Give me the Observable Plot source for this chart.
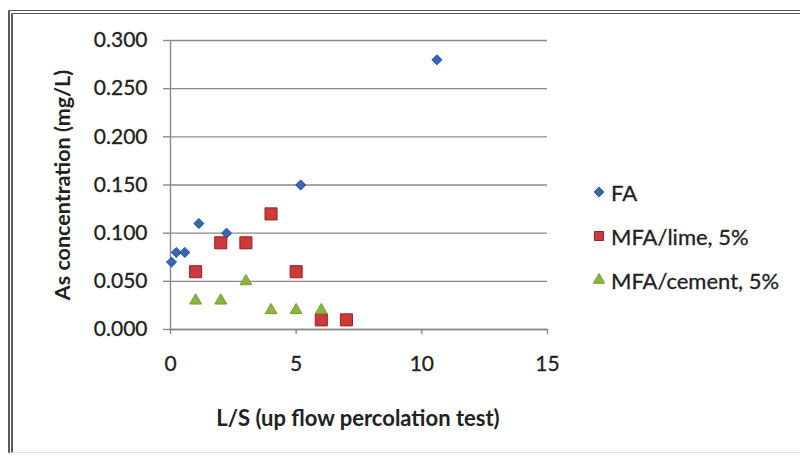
<!DOCTYPE html>
<html>
<head>
<meta charset="utf-8">
<script src="https://cdn.jsdelivr.net/npm/d3@7"></script>
<script src="https://cdn.jsdelivr.net/npm/@observablehq/plot@0.6"></script>
<style>
  html, body { margin: 0; padding: 0; background: #fff; }
  #wrap { position: relative; width: 800px; height: 457px; overflow: hidden; font-family: Lato, "Open Sans", sans-serif; color: #222; }
  #frame { position: absolute; left: 8px; top: 10px; width: 800px; height: 443px; border-left: 5px double #5a5a5a; border-top: 4px double #555; border-bottom: 1px solid #ddd; box-sizing: border-box; }
  #chart { position: absolute; left: 0; top: 0; }
  .title { position: absolute; font-weight: bold; font-size: 21.5px; white-space: nowrap; color: #222; }
  #ytitle { left: 62px; top: 185px; transform: translate(-50%, -50%) rotate(-90deg); }
  #xtitle { left: 358px; top: 417px; transform: translate(-50%, -50%); font-size: 22px; }
  #legend { position: absolute; left: 592px; top: 170px; font-size: 22px; }
  .row { display: flex; align-items: center; height: 44px; }
  .row svg { margin-right: 5px; }
  .row span { -webkit-text-stroke: 0.3px #222; }
  #chart svg g[aria-label="y-axis tick label"] text, #chart svg g[aria-label="x-axis tick label"] text { stroke: #222; stroke-width: 0.3px; }
</style>
</head>
<body>
<div id="wrap">
  <div id="frame"></div>
  <div id="chart"></div>
  <div class="title" id="ytitle"></div>
  <div class="title" id="xtitle"></div>
  <div id="legend"></div>
</div>
<script>
// ---- data ----
const seriesNames = ["FA", "MFA/lime, 5%", "MFA/cement, 5%"];
const faX = [0.04, 0.23, 0.57, 1.13, 2.23, 5.18, 10.6];
const faY = [0.07, 0.08, 0.08, 0.11, 0.10, 0.15, 0.28];
const limeX = [1, 2, 3, 4, 5, 6, 7];
const limeY = [0.06, 0.09, 0.09, 0.12, 0.06, 0.01, 0.01];
const cementX = [1, 2, 3, 4, 5, 6];
const cementY = [0.03, 0.03, 0.05, 0.02, 0.02, 0.02];
const xTicks = [0, 5, 10, 15];
const yTicks = [0, 0.05, 0.10, 0.15, 0.20, 0.25, 0.30];
const xTitle = "L/S (up flow percolation test)";
const yTitle = "As concentration (mg/L)";

// ---- styles ----
const styles = [
  {symbol: "diamond2", r: 4.5, fill: "#3567bb", stroke: "#1d4a92"},
  {symbol: "square", r: 6.8, fill: "#cc3b3b", stroke: "#9a1f1f"},
  {symbol: "triangle", r: 4.4, fill: "#8db53f", stroke: "#779c2c"}
];
const gridColor = "#8a8a8a";

const toRows = (xs, ys) => xs.map((x, i) => ({x, y: ys[i]}));
const data = [toRows(faX, faY), toRows(limeX, limeY), toRows(cementX, cementY)];

const plot = Plot.plot({
  width: 800,
  height: 457,
  marginLeft: 170,
  marginRight: 253,
  marginTop: 40,
  marginBottom: 128,
  style: {fontFamily: "Lato, 'Open Sans', sans-serif", fontSize: "21px", color: "#222", background: "transparent"},
  x: {domain: [0, 15]},
  y: {domain: [0, 0.3]},
  marks: [
    Plot.gridY(yTicks, {stroke: gridColor, strokeOpacity: 1, strokeWidth: 1.4}),
    Plot.axisY(yTicks, {tickSize: 7, tickPadding: 16, stroke: gridColor, strokeWidth: 1.4, tickFormat: d3.format(".3f"), label: null}),
    Plot.axisX(xTicks, {tickSize: 5, tickPadding: 22, stroke: gridColor, strokeWidth: 1.4, label: null}),
    Plot.ruleX([0], {stroke: gridColor, strokeWidth: 1.4}),
    Plot.ruleY([0], {stroke: gridColor, strokeWidth: 1.4}),
    ...data.map((rows, i) => Plot.dot(rows, {x: "x", y: "y", symbol: () => styles[i].symbol, r: styles[i].r, fill: styles[i].fill, stroke: styles[i].stroke, strokeWidth: 1}))
  ]
});
document.getElementById("chart").appendChild(plot);
document.getElementById("xtitle").textContent = xTitle;
document.getElementById("ytitle").textContent = yTitle;

// legend
const legend = document.getElementById("legend");
const legendSymbols = [
  d3.symbol(d3.symbolDiamond2, 60)(),
  d3.symbol(d3.symbolSquare, 80)(),
  d3.symbol(d3.symbolTriangle, 55)()
];
seriesNames.forEach((name, i) => {
  const row = document.createElement("div");
  row.className = "row";
  row.innerHTML = `<svg width="14" height="14" viewBox="-7 -7 14 14"><path d="${legendSymbols[i]}" fill="${styles[i].fill}" stroke="${styles[i].stroke}" stroke-width="1"/></svg><span>${name}</span>`;
  legend.appendChild(row);
});
</script>
</body>
</html>
